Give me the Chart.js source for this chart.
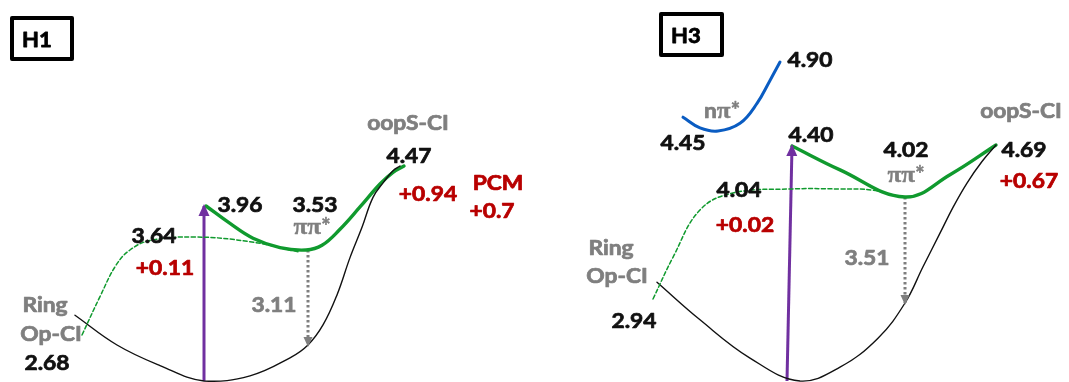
<!DOCTYPE html>
<html>
<head>
<meta charset="utf-8">
<title>H1 / H3 potential energy profiles</title>
<script src="https://cdn.jsdelivr.net/npm/chart.js@4.4.1/dist/chart.umd.min.js"></script>
<style>
  html, body { margin: 0; padding: 0; background: #ffffff; }
  #wrap { position: relative; width: 1069px; height: 382px; overflow: hidden; }
  #wrap canvas { position: absolute; top: 0; }
</style>
</head>
<body>
<div id="wrap">
  <canvas id="panelH1" width="540" height="382" style="left:0px"></canvas>
  <canvas id="panelH3" width="529" height="382" style="left:540px"></canvas>
</div>
<script>
// ---------------------------------------------------------------
// Energies (eV) — panel H1
// ---------------------------------------------------------------
const h1RingCI = 2.68;        // ring-opening conical intersection
const h1Plateau = 3.64;       // barrier on the dashed path
const h1Vertical = 3.96;      // vertical excitation
const h1PiPiMin = 3.53;       // pi-pi* minimum
const h1Emission = 3.11;      // emission from the pi-pi* minimum
const h1OopCI = 4.47;         // out-of-plane S conical intersection
const h1PlateauShift = 0.11;
const h1OopShift = 0.94;
const h1PcmShift = 0.7;

// Energies (eV) — panel H3
const h3RingCI = 2.94;
const h3Plateau = 4.04;
const h3Vertical = 4.40;
const h3PiPiMin = 4.02;
const h3Emission = 3.51;
const h3OopCI = 4.69;
const h3NpiMin = 4.45;
const h3NpiTop = 4.90;
const h3PlateauShift = 0.02;
const h3OopShift = 0.67;

// Curves as [reaction coordinate, energy in eV]
const h1Ground = [[75, 2.76], [117, 0.42], [160, 0.18], [204, 0], [250, 0.06], [290, 0.27],
  [308, h1PiPiMin - h1Emission], [323, 2.39], [337, 3.00], [350, 3.44], [362, 3.74],
  [373, 4.07], [384, 4.27], [393, 4.41], [400, h1OopCI]];
const h1PiPi = [[206, h1Vertical], [230, 3.78], [253, 3.63], [280, 3.55], [306, h1PiPiMin],
  [322, 3.57], [340, 3.72], [360, 3.95], [380, 4.24], [393, 4.39], [404, h1OopCI]];
const h1RingPath = [[82, 1.40], [100, 2.98], [116, 3.35], [130, h1PiPiMin], [150, 3.61],
  [195, h1Plateau], [250, 3.60], [298, 3.51]];
const h1Pump = [[204, 0], [204, h1Vertical]];
const h1Emit = [[308, h1PiPiMin], [308, h1PiPiMin - h1Emission]];

const h3Ground = [[117, 3.03], [160, 0.40], [210, 0.15], [260, 0], [300, 0.09], [338, 0.28],
  [365, h3PiPiMin - h3Emission], [383, 3.21], [400, 3.60], [413, 3.90], [427, 4.09],
  [442, 4.27], [456, h3OopCI]];
const h3PiPi = [[252, h3Vertical], [300, 4.20], [365, h3PiPiMin], [410, 4.16], [456, h3OopCI]];
const h3RingPath = [[113, 1.26], [133, 3.32], [160, 3.87], [193, 4.03], [250, h3Plateau],
  [300, h3Plateau], [333, 4.037], [360, h3PiPiMin]];
const h3NPi = [[143, 4.54], [160, 4.47], [178, h3NpiMin], [200, 4.50], [217, 4.63], [230, 4.78],
  [240, h3NpiTop]];
const h3Pump = [[247, 0], [252, h3Vertical]];
const h3Emit = [[365, h3PiPiMin], [365, h3PiPiMin - h3Emission]];

// ---------------------------------------------------------------
// Schematic energy axis: the drawing is not to scale, so each
// energy scale places chosen levels at chosen heights (canvas px)
// and interpolates linearly between them.
// ---------------------------------------------------------------
const levelPlacement = {
  yH1: [[0, 381], [h1PiPiMin - h1Emission, 345], [h1RingCI, 322], [h1PiPiMin, 250],
        [h1Plateau, 237], [h1Vertical, 206], [h1OopCI, 166]],
  yH3: [[0, 381], [h3PiPiMin - h3Emission, 303], [h3RingCI, 290], [h3PiPiMin, 197],
        [h3Plateau, 189], [h3Vertical, 146], [h3OopCI, 145]],
  yN:  [[h3NpiMin, 131], [h3NpiTop, 62]]
};
const PANEL_H = 382;

function piecewise(knots, v, from, to) {
  let i = 0;
  while (i < knots.length - 2 && v > knots[i + 1][from]) i++;
  const a = knots[i], b = knots[i + 1];
  const t = (v - a[from]) / (b[from] - a[from]);
  return a[to] + t * (b[to] - a[to]);
}

class SchematicScale extends Chart.LinearScale {
  getPixelForValue(value) {
    const knots = levelPlacement[this.id];
    const px = piecewise(knots, value, 0, 1);
    return this.top + px * (this.bottom - this.top) / PANEL_H;
  }
  getValueForPixel(pixel) {
    const px = (pixel - this.top) * PANEL_H / (this.bottom - this.top);
    const inv = levelPlacement[this.id].slice().reverse().map(([e, p]) => [p, e]);
    return piecewise(inv, px, 0, 1);
  }
}
SchematicScale.id = 'schematic';
SchematicScale.defaults = Chart.LinearScale.defaults;
Chart.register(SchematicScale);

// ---------------------------------------------------------------
// Styling
// ---------------------------------------------------------------
const GREEN = '#109a2e';
const PURPLE = '#7030a0';
const BLUE = '#0a5cc2';
const GREY = '#7f7f7f';
const RED = '#b80000';
const INK = '#111111';

function curve(points, style, yAxisID) {
  return Object.assign({
    data: points.map(([x, y]) => ({ x, y })),
    yAxisID,
    pointRadius: 0,
    fill: false,
    clip: false,
    tension: 0.4,
    borderCapStyle: 'round'
  }, style);
}
function arrow(points, style, yAxisID, head) {
  return Object.assign(curve(points, style, yAxisID), {
    tension: 0, borderCapStyle: 'butt', arrowHead: head
  });
}

const groundStyle = { borderColor: INK, borderWidth: 1.4 };
const pipiStyle = { borderColor: GREEN, borderWidth: 3.4 };
const ringStyle = { borderColor: GREEN, borderWidth: 1.5, borderDash: [4, 2.5] };
const npiStyle = { borderColor: BLUE, borderWidth: 3 };
const pumpStyle = { borderColor: PURPLE, borderWidth: 3 };
const emitStyle = { borderColor: GREY, borderWidth: 3, borderDash: [2.6, 2.4] };

const fonts = {
  num:   { css: 'bold 20px Lato', stretch: 1.14, weight: 0.7 },
  greek: { css: 'bold 24px "Liberation Serif"', stretch: 1.05, weight: 0.4 },
  star:  { css: 'bold 22px Lato', stretch: 1.0, weight: 0.5 },
  box:   { css: 'bold 21px Lato', stretch: 1.05, weight: 0.8 }
};

const f2 = v => v.toFixed(2);
const shift = (v, d) => '+' + v.toFixed(d);
const PIPI = [['\u03c0\u03c0', 'greek'], ['*', 'star']];
const NPI = [['n', 'num'], ['\u03c0', 'greek'], ['*', 'star']];

// Label placement (canvas px, text baseline)
const h1Labels = [
  { text: 'Ring', x: 45, y: 312, color: GREY },
  { text: 'Op-CI', x: 51, y: 341, color: GREY },
  { text: f2(h1RingCI), x: 47, y: 370, color: INK },
  { text: f2(h1Plateau), x: 154, y: 243, color: INK },
  { text: shift(h1PlateauShift, 2), x: 165, y: 275, color: RED },
  { text: f2(h1Vertical), x: 240, y: 212, color: INK },
  { text: f2(h1PiPiMin), x: 315, y: 212, color: INK },
  { text: PIPI, x: 312, y: 234, color: GREY },
  { text: f2(h1Emission), x: 274, y: 312, color: GREY },
  { text: 'oopS-CI', x: 408, y: 130, color: GREY },
  { text: f2(h1OopCI), x: 409, y: 163, color: INK },
  { text: shift(h1OopShift, 2), x: 428, y: 201, color: RED },
  { text: 'PCM', x: 498, y: 190, color: RED },
  { text: shift(h1PcmShift, 1), x: 492, y: 218, color: RED }
];
const h3Labels = [
  { text: NPI, x: 182, y: 118, color: GREY },
  { text: f2(h3NpiMin), x: 143, y: 150, color: INK },
  { text: f2(h3NpiTop), x: 270, y: 67, color: INK },
  { text: f2(h3Vertical), x: 271, y: 142, color: INK },
  { text: f2(h3Plateau), x: 199, y: 197, color: INK },
  { text: shift(h3PlateauShift, 2), x: 205, y: 232, color: RED },
  { text: f2(h3PiPiMin), x: 366, y: 157, color: INK },
  { text: PIPI, x: 366, y: 182, color: GREY },
  { text: f2(h3OopCI), x: 484, y: 157, color: INK },
  { text: shift(h3OopShift, 2), x: 489, y: 188, color: RED },
  { text: f2(h3Emission), x: 327, y: 265, color: GREY },
  { text: 'oopS-CI', x: 481, y: 118, color: GREY },
  { text: 'Ring', x: 71, y: 255, color: GREY },
  { text: 'Op-CI', x: 77, y: 283, color: GREY },
  { text: f2(h3RingCI), x: 94, y: 328, color: INK }
];

function drawLabel(ctx, lab) {
  const segs = Array.isArray(lab.text) ? lab.text : [[lab.text, lab.font || 'num']];
  const widths = segs.map(([t, f]) => {
    ctx.font = fonts[f].css;
    return ctx.measureText(t).width * fonts[f].stretch;
  });
  let x = lab.x - widths.reduce((a, b) => a + b, 0) / 2;
  segs.forEach(([t, f], i) => {
    const spec = fonts[f];
    ctx.save();
    ctx.font = spec.css;
    ctx.fillStyle = lab.color;
    ctx.strokeStyle = lab.color;
    ctx.lineWidth = spec.weight;
    ctx.lineJoin = 'round';
    ctx.textAlign = 'left';
    ctx.textBaseline = 'alphabetic';
    ctx.translate(x, lab.y);
    ctx.scale(spec.stretch, 1);
    ctx.fillText(t, 0, 0);
    if (spec.weight) ctx.strokeText(t, 0, 0);
    ctx.restore();
    x += widths[i];
  });
}

// Arrow heads at the last point of datasets that carry `arrowHead`
const arrowHeads = {
  id: 'arrowHeads',
  afterDatasetsDraw(chart) {
    const ctx = chart.ctx;
    chart.data.datasets.forEach((ds, i) => {
      if (!ds.arrowHead) return;
      const pts = chart.getDatasetMeta(i).data;
      const a = pts[pts.length - 2], b = pts[pts.length - 1];
      const ang = Math.atan2(b.y - a.y, b.x - a.x);
      const { len, half, color } = ds.arrowHead;
      ctx.save();
      ctx.translate(b.x, b.y);
      ctx.rotate(ang);
      ctx.beginPath();
      ctx.moveTo(2, 0);
      ctx.lineTo(2 - len, -half);
      ctx.lineTo(2 - len, half);
      ctx.closePath();
      ctx.fillStyle = color;
      ctx.fill();
      ctx.restore();
    });
  }
};

// Panel caption box and text labels
const annotations = {
  id: 'annotations',
  afterDraw(chart, args, opts) {
    const ctx = chart.ctx;
    const b = opts.box;
    ctx.save();
    ctx.strokeStyle = '#000';
    ctx.lineWidth = 4;
    ctx.lineJoin = 'round';
    ctx.strokeRect(b.x, b.y, b.w, b.h);
    ctx.restore();
    drawLabel(ctx, { text: [[b.title, 'box']], x: b.tx, y: b.ty, color: '#000' });
    opts.labels.forEach(l => drawLabel(ctx, l));
  }
};

function panel(canvasId, xMax, yScaleIds, datasets, labels, box) {
  const scales = { x: { type: 'linear', min: 0, max: xMax, display: false } };
  yScaleIds.forEach(id => {
    scales[id] = { type: 'schematic', min: 0, max: 5, display: false };
  });
  return new Chart(document.getElementById(canvasId), {
    type: 'line',
    data: { datasets },
    options: {
      responsive: false,
      devicePixelRatio: 1,
      animation: false,
      events: [],
      layout: { padding: 0 },
      scales,
      plugins: {
        legend: { display: false },
        tooltip: { enabled: false },
        annotations: { labels, box }
      }
    },
    plugins: [arrowHeads, annotations]
  });
}

panel('panelH1', 540, ['yH1'], [
  curve(h1RingPath, ringStyle, 'yH1'),
  curve(h1Ground, groundStyle, 'yH1'),
  curve(h1PiPi, pipiStyle, 'yH1'),
  arrow(h1Emit, emitStyle, 'yH1', { len: 10, half: 4.5, color: GREY }),
  arrow(h1Pump, pumpStyle, 'yH1', { len: 12, half: 5.5, color: PURPLE })
], h1Labels, { x: 12, y: 18, w: 60, h: 41, title: 'H1', tx: 37, ty: 47 });

panel('panelH3', 529, ['yH3', 'yN'], [
  curve(h3RingPath, ringStyle, 'yH3'),
  curve(h3Ground, groundStyle, 'yH3'),
  curve(h3PiPi, pipiStyle, 'yH3'),
  curve(h3NPi, npiStyle, 'yN'),
  arrow(h3Emit, emitStyle, 'yH3', { len: 10, half: 4.5, color: GREY }),
  arrow(h3Pump, pumpStyle, 'yH3', { len: 12, half: 5.5, color: PURPLE })
], h3Labels, { x: 121, y: 14, w: 61, h: 41, title: 'H3', tx: 146, ty: 43 });
</script>
</body>
</html>
